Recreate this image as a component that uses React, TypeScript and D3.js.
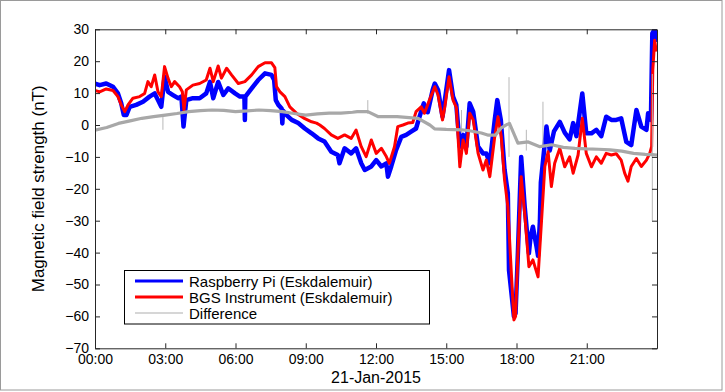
import * as d3 from "d3";
import { useEffect, useRef } from "react";

// hours after midnight, 21-Jan-2015
const piHours = [
  0, 0.2, 0.48, 0.77, 0.98, 1.12, 1.23, 1.34, 1.48, 1.76, 2.05, 2.33, 2.55, 2.69, 2.83, 2.97, 3.12, 3.33,
  3.55, 3.69, 3.78, 3.9, 4.18, 4.47, 4.75, 4.91, 5.05, 5.26, 5.48, 5.69, 5.98, 6.19, 6.38, 6.4, 6.42,
  6.69, 6.97, 7.26, 7.54, 7.65, 7.72, 7.83, 7.97, 8.0, 8.03, 8.18, 8.4, 8.68, 8.96, 9.25, 9.53, 9.8,
  10.09, 10.37, 10.44, 10.66, 10.94, 11.15, 11.37, 11.52, 11.8, 12.01, 12.23, 12.44, 12.51, 12.65,
  12.86, 13.08, 13.29, 13.5, 13.71, 13.86, 14.04, 14.21, 14.42, 14.51, 14.65, 14.84, 15.12, 15.29,
  15.43, 15.58, 15.72, 15.86, 16.0, 16.15, 16.36, 16.57, 16.71, 16.86, 17.07, 17.18, 17.33, 17.49,
  17.63, 17.68, 17.89, 17.96, 18.06, 18.2, 18.35, 18.53, 18.6, 18.7, 18.85, 18.92, 19.0, 19.04, 19.28,
  19.42, 19.6, 19.85, 20.06, 20.27, 20.42, 20.56, 20.81, 20.98, 21.2, 21.41, 21.62, 21.83, 22.05,
  22.26, 22.47, 22.69, 22.9, 23.12, 23.33, 23.55, 23.62, 23.74, 23.8, 23.9, 23.97,
];
const piNT = [
  13, 12.5, 13, 12, 9.9, 6.8, 3.1, 3.1, 5.7, 6.3, 7.3, 8.9, 9.9, 7.8, 5.7, 15.1, 10.4, 9.4,
  8.4, 8.9, -0.5, 7.8, 8.4, 8.4, 9.9, 13.5, 8.4, 13.5, 9.4, 11.5, 9.9, 8.9, 8.9, 1.6, 8.9,
  11.5, 14.1, 16.2, 15.7, 14.1, 7.8, 6.3, 5.2, 0.5, 4.5, 3.1, 1.6, 0.6, -1.1, -2.6, -4.2, -5.2,
  -8.4, -9.4, -12, -7.3, -8.9, -7.3, -12, -14.1, -13, -11, -13, -12, -16.2, -13,
  -7.8, -3.7, -3.1, -2.1, -1.1, 2.6, 6.8, 4, 11, 13, 11, 2.6, 17.2, 8.9,
  6.3, -6.8, -3.1, -6.8, 6.8, 4.2, -6.8, -8.9, -8.9, -12, 1.6, 7.8, 1.6, -14,
  -21.4, -45.5, -60, -59, -40, -10, -25.6, -40.2, -35, -31.9, -37.9, -41, -30, -18, -0.5,
  -8, -2, 1.0, -2.4, -4.5, 0.6, -3.5, 9.9, -2.6, -2.6, -1.5, -3.5, 2.6, 1.6,
  1.6, 2.1, -5.3, -6.3, 4.7, -0.5, -1.5, 3.7, 1.6, 28.7, 30, 26,
];

const bgsHours = [
  0, 0.2, 0.48, 0.77, 0.98, 1.12, 1.27, 1.41, 1.62, 1.91, 2.12, 2.26, 2.4, 2.55, 2.69, 2.83, 2.97,
  3.12, 3.26, 3.4, 3.61, 3.73, 3.8, 3.9, 4.18, 4.47, 4.75, 4.91, 5.05, 5.26, 5.4, 5.62, 5.83, 6.12,
  6.4, 6.69, 6.97, 7.26, 7.54, 7.68, 7.75, 7.9, 8.11, 8.32, 8.6, 8.96, 9.25, 9.46, 9.6, 9.8, 10.09,
  10.37, 10.66, 10.94, 11.15, 11.37, 11.58, 11.8, 12.01, 12.23, 12.44, 12.57, 12.79, 12.93, 13.15,
  13.36, 13.57, 13.71, 13.93, 14.07, 14.28, 14.51, 14.65, 14.84, 14.94, 15.12, 15.29, 15.43, 15.58,
  15.72, 15.86, 16.0, 16.15, 16.36, 16.57, 16.71, 16.86, 17.07, 17.21, 17.35, 17.49, 17.63, 17.78,
  17.89, 17.96, 18.06, 18.2, 18.35, 18.53, 18.7, 18.92, 19.07, 19.21, 19.35, 19.49, 19.63, 19.85,
  20.06, 20.27, 20.42, 20.63, 20.81, 20.98, 21.2, 21.41, 21.62, 21.83, 22.05, 22.26, 22.47, 22.62,
  22.76, 22.9, 23.12, 23.33, 23.55, 23.69, 23.77, 23.82, 23.9, 23.97,
];
const bgsNT = [
  10.8, 10.4, 11.3, 10.8, 8.9, 6.3, 4.2, 6.3, 8.4, 8.9, 9.9, 13.6, 12, 15.7, 10.4, 8.9, 18.3,
  14.6, 12, 13.6, 12, 10.4, 4.7, 11, 12.5, 13, 14.1, 17.8, 13.6, 18.5, 14.7, 17.8, 15.7, 13,
  13.6, 15.7, 18.3, 19.5, 19.5, 18, 12, 10.4, 8.9, 5.7, 3.7, 2, 1, 0.6, 0, -1.1, -3.1,
  -4.2, -3.1, -4.2, -1.6, -6.8, -9.9, -4.7, -8.9, -7.3, -9.9, -12, -6.8, -0.5, 0,
  0.6, 0.8, 4.2, 5.7, 3.7, 7.8, 12, 9.4, 1.6, 5.7, 15.1, 7.8, 5.5, -13.1,
  -4.7, -8.9, 3.7, 1.6, -8.9, -14.1, -11, -16.2, -3.7, 2.6, -3.7, -17.2, -25.6, -46.5,
  -61.1, -60, -40.2, -16.2, -27.7, -44.4, -42.3, -47.6, -29.8, -13, -8.4, -19.3, -12, -7.3,
  -13.1, -10, -15.1, -9.4, 2.1, -8.9, -13.1, -10, -12, -8.9, -9.4, -9, -11, -15.1,
  -17.6, -13, -10.5, -13, -11, -8.9, -6.8, 17.2, 26.6, 23,
];

const diffHours = [
  0, 0.5, 1.0, 1.5, 2.0, 2.5, 3.0, 3.5, 4.0, 4.5, 5.0, 5.5, 6.0, 6.5, 7.0, 7.5, 8.0, 8.5,
  9.0, 9.5, 10.0, 10.5, 11.0, 11.2, 11.65, 12.1, 12.9, 13.8, 14.3, 14.5, 15.0, 15.65,
  16.0, 16.5, 16.8, 17.1, 17.35, 17.6, 17.7, 18.06, 18.5, 19.0, 19.5, 20.0, 20.5, 21.0,
  21.5, 22.0, 22.5, 23.0, 23.5, 23.8, 24.0,
];
const diffNT = [
  -1.6, -0.8, 0.5, 1.3, 2.1, 2.6, 3.1, 3.6, 4.2, 4.5, 4.7, 4.6, 4.2, 4.4, 4.7, 4.5, 4.2, 3.6,
  3.1, 3.5, 3.7, 3.7, 4.0, 4.2, 4.2, 2.6, 2.6, 2.1, 0, -1.2, -1.4, -1.5,
  -1.8, -2.5, -3.2, -3.2, -0.9, 0.2, 0.5, -5.7, -5.3, -6.8, -6.2, -7.0, -7.3, -7.5,
  -7.6, -7.8, -8.2, -8.9, -9.2, -9.3, -9.4,
];
// single-sample glitches in the difference trace
const spikeHours = [2.9, 11.65, 15.65, 17.68, 18.42, 19.13, 23.8];
const spikeLow = [-1.5, 3.5, -2.5, -10, -8, -6.6, -30];
const spikeHigh = [3.0, 7.8, 4.7, 15, -1.5, 7.3, 16];

const xTicks = [0, 3, 6, 9, 12, 15, 18, 21];
const xTickLabels = ["00:00", "03:00", "06:00", "09:00", "12:00", "15:00", "18:00", "21:00"];
const yTicks = [-70, -60, -50, -40, -30, -20, -10, 0, 10, 20, 30];
const seriesNames = ["Raspberry Pi (Eskdalemuir)", "BGS Instrument (Eskdalemuir)", "Difference"];
const dateLabel = "21-Jan-2015";
const yLabel = "Magnetic field strength (nT)";

const width = 725;
const height = 392;
const plot = { left: 95, right: 657, top: 29.3, bottom: 348.3 };
const font = "'Liberation Sans', Arial, Helvetica, sans-serif";
const axisColor = "#262626";

export default function App() {
  const ref = useRef<SVGSVGElement>(null);

  useEffect(() => {
    if (!ref.current) return;
    const svg = d3.select(ref.current);
    svg.selectAll("*").remove();

    const x = d3.scaleLinear().domain([0, 24]).range([plot.left, plot.right]);
    const y = d3.scaleLinear().domain([-70, 30]).range([plot.bottom, plot.top]);

    // figure frame
    svg.append("rect")
      .attr("x", 0.5).attr("y", 0.5)
      .attr("width", 721.5).attr("height", 389.5)
      .attr("fill", "white").attr("stroke", "#9a9a9a");

    svg.append("clipPath").attr("id", "plotclip")
      .append("rect")
      .attr("x", plot.left).attr("y", plot.top)
      .attr("width", plot.right - plot.left).attr("height", plot.bottom - plot.top);

    const line = d3.line<[number, number]>()
      .x((d) => x(d[0]))
      .y((d) => y(d[1]));

    const lines = svg.append("g").attr("clip-path", "url(#plotclip)");
    const series = [
      { h: piHours, v: piNT, color: "#0000ff", w: 4.5 },
      { h: bgsHours, v: bgsNT, color: "#ff0000", w: 3 },
    ];
    series.forEach((s) => {
      const pts = s.h.map((t, i) => [t, s.v[i]] as [number, number]);
      lines.append("path")
        .attr("d", line(pts))
        .attr("fill", "none")
        .attr("stroke", s.color)
        .attr("stroke-width", s.w)
        .attr("stroke-linejoin", "round");
    });

    lines.selectAll("line.spike")
      .data(spikeHours)
      .join("line")
      .attr("class", "spike")
      .attr("x1", (d) => x(d)).attr("x2", (d) => x(d))
      .attr("y1", (_, i) => y(spikeLow[i])).attr("y2", (_, i) => y(spikeHigh[i]))
      .attr("stroke", "#b8b8b8").attr("stroke-width", 1);

    const diffPts = diffHours.map((t, i) => [t, diffNT[i]] as [number, number]);
    lines.append("path")
      .attr("d", line(diffPts))
      .attr("fill", "none")
      .attr("stroke", "#a8a8a8")
      .attr("stroke-width", 3.2)
      .attr("stroke-linejoin", "round");

    // axes (ticks point inward, box on)
    const styleAxis = (g: d3.Selection<SVGGElement, unknown, null, undefined>) => {
      g.select(".domain").attr("stroke", axisColor);
      g.selectAll(".tick line").attr("stroke", axisColor);
      g.selectAll(".tick text")
        .attr("fill", "#000")
        .attr("font-family", font)
        .attr("font-size", 14);
    };

    svg.append("g")
      .attr("transform", `translate(0,${plot.bottom})`)
      .call(d3.axisBottom(x).tickValues(xTicks)
        .tickFormat((_, i) => xTickLabels[i]).tickSizeInner(-5).tickSizeOuter(0).tickPadding(6))
      .call(styleAxis);
    svg.append("g")
      .attr("transform", `translate(0,${plot.top})`)
      .call(d3.axisTop(x).tickValues(xTicks).tickFormat(() => "")
        .tickSizeInner(-5).tickSizeOuter(0))
      .call(styleAxis);
    svg.append("g")
      .attr("transform", `translate(${plot.left},0)`)
      .call(d3.axisLeft(y).tickValues(yTicks)
        .tickFormat((d) => d3.format("d")(d as number).replace("-", "\u2212"))
        .tickSizeInner(-5).tickSizeOuter(0).tickPadding(6))
      .call(styleAxis);
    svg.append("g")
      .attr("transform", `translate(${plot.right},0)`)
      .call(d3.axisRight(y).tickValues(yTicks).tickFormat(() => "")
        .tickSizeInner(-5).tickSizeOuter(0))
      .call(styleAxis);

    svg.append("text")
      .attr("x", (plot.left + plot.right) / 2).attr("y", 383)
      .attr("text-anchor", "middle")
      .attr("font-family", font).attr("font-size", 16)
      .text(dateLabel);

    svg.append("text")
      .attr("transform", `translate(44,${(plot.top + plot.bottom) / 2}) rotate(-90)`)
      .attr("text-anchor", "middle")
      .attr("font-family", font).attr("font-size", 17)
      .text(yLabel);

    // legend
    const lg = svg.append("g");
    lg.append("rect")
      .attr("x", 124.5).attr("y", 270.5)
      .attr("width", 305).attr("height", 53.5)
      .attr("fill", "white").attr("stroke", "#000");
    const legendColors = ["#0000ff", "#ff0000", "#c8c8c8"];
    const legendWidths = [3, 3, 1.5];
    seriesNames.forEach((name, i) => {
      const cy = 281 + i * 16;
      lg.append("line")
        .attr("x1", 135).attr("x2", 183).attr("y1", cy).attr("y2", cy)
        .attr("stroke", legendColors[i]).attr("stroke-width", legendWidths[i]);
      lg.append("text")
        .attr("x", 189).attr("y", cy + 5.5)
        .attr("font-family", font).attr("font-size", 15)
        .text(name);
    });
  }, []);

  return (
    <svg
      ref={ref}
      width={width}
      height={height}
      viewBox={`0 0 ${width} ${height}`}
      style={{ position: "absolute", left: 0, top: 0, background: "white" }}
    />
  );
}
